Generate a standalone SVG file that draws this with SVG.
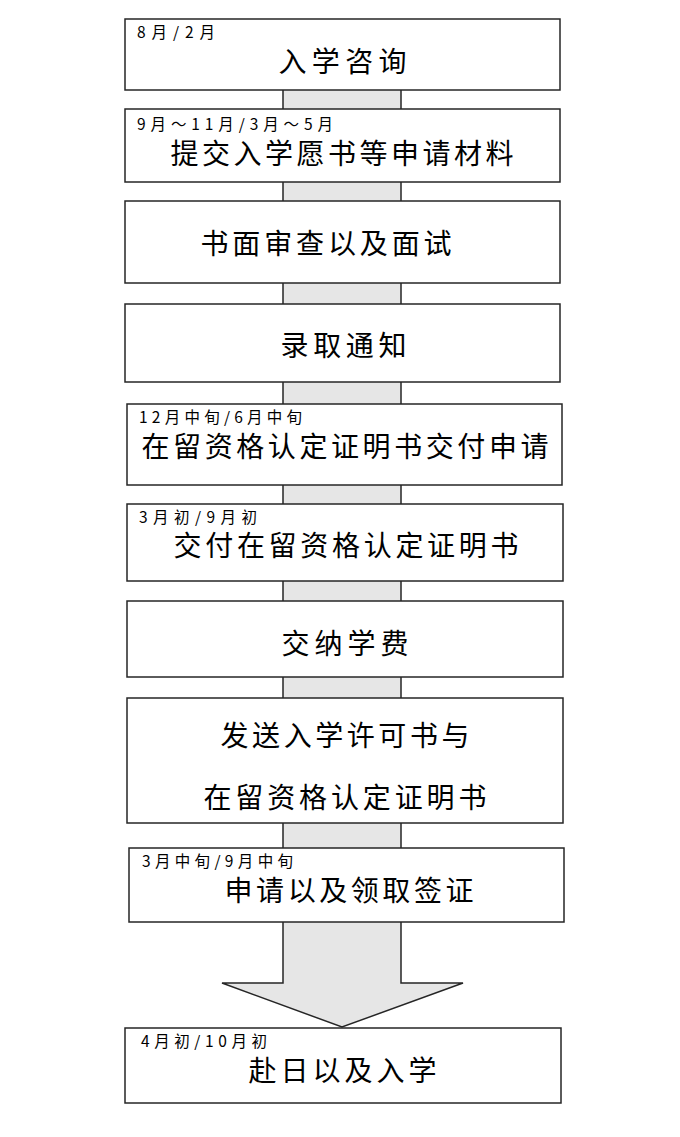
<svg xmlns="http://www.w3.org/2000/svg" width="680" height="1137" viewBox="0 0 680 1137">
<style>
.box{fill:#fff;stroke:#262626;stroke-width:1.5}
.con{fill:#e6e6e6;stroke:#262626;stroke-width:1.5}
.m{font-family:"Noto Sans CJK SC","Noto Sans CJK JP",sans-serif;font-size:28px;fill:#000;text-anchor:middle}
.s{font-family:"Noto Sans CJK SC","Noto Sans CJK JP",sans-serif;font-size:15.5px;fill:#000}
</style>
<rect width="680" height="1137" fill="#fff"/>
<g id="connectors">
<rect class="con" x="283" y="88" width="118" height="24"/>
<rect class="con" x="283" y="180" width="118" height="24"/>
<rect class="con" x="283" y="281" width="118" height="26"/>
<rect class="con" x="283" y="380" width="118" height="27"/>
<rect class="con" x="283" y="483" width="118" height="24"/>
<rect class="con" x="283" y="579" width="118" height="25"/>
<rect class="con" x="283" y="675" width="118" height="26"/>
<rect class="con" x="283" y="821" width="118" height="30"/>
<polygon class="con" points="283,921 401,921 401,983 463,983 342,1027 222,983 283,983"/>
</g>
<g id="n1"><rect class="box" x="125" y="19" width="435" height="71"/>
<text class="s" x="137" y="38" textLength="78">8月/2月</text>
<text class="m" x="342.5" y="72" textLength="128">入学咨询</text></g>
<g id="n2"><rect class="box" x="125" y="109" width="435" height="73"/>
<text class="s" x="137" y="130" textLength="196">9月～11月/3月～5月</text>
<text class="m" x="342" y="164" textLength="343">提交入学愿书等申请材料</text></g>
<g id="n3"><rect class="box" x="125" y="201" width="435" height="82"/>
<text class="m" x="326" y="254" textLength="251">书面审查以及面试</text></g>
<g id="n4"><rect class="box" x="125" y="304" width="435" height="78"/>
<text class="m" x="343.5" y="356" textLength="126">录取通知</text></g>
<g id="n5"><rect class="box" x="127" y="404" width="435" height="81"/>
<text class="s" x="139" y="423" textLength="163">12月中旬/6月中旬</text>
<text class="m" x="345" y="457" textLength="407">在留资格认定证明书交付申请</text></g>
<g id="n6"><rect class="box" x="127" y="504" width="436" height="77"/>
<text class="s" x="139" y="523" textLength="118">3月初/9月初</text>
<text class="m" x="346" y="556" textLength="345">交付在留资格认定证明书</text></g>
<g id="n7"><rect class="box" x="127" y="601" width="436" height="76"/>
<text class="m" x="345" y="654" textLength="127">交纳学费</text></g>
<g id="n8"><rect class="box" x="127" y="698" width="436" height="125"/>
<text class="m" x="345" y="746" textLength="249">发送入学许可书与</text>
<text class="m" x="345" y="808" textLength="283">在留资格认定证明书</text></g>
<g id="n9"><rect class="box" x="129" y="848" width="435" height="74"/>
<text class="s" x="142" y="867" textLength="151">3月中旬/9月中旬</text>
<text class="m" x="349" y="901" textLength="249">申请以及领取签证</text></g>
<g id="n10"><rect class="box" x="125" y="1028" width="436" height="75"/>
<text class="s" x="141" y="1047" textLength="126">4月初/10月初</text>
<text class="m" x="342.5" y="1081" textLength="188">赴日以及入学</text></g>
</svg>
